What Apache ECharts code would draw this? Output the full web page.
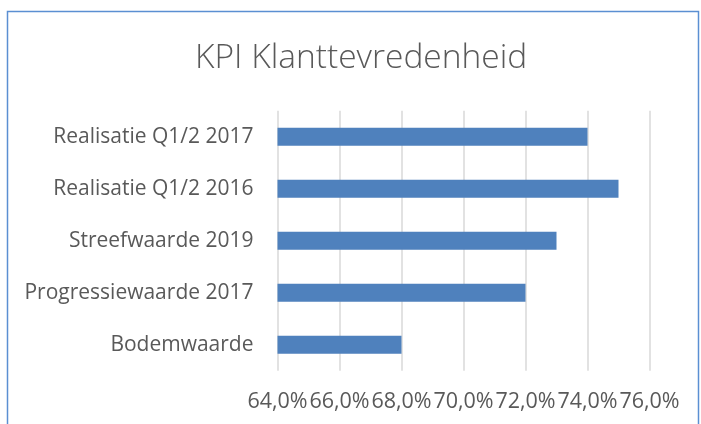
<!DOCTYPE html>
<html>
<head>
<meta charset="utf-8">
<script src="https://cdn.jsdelivr.net/npm/echarts@6/dist/echarts.min.js"></script>
<style>
  html, body { margin: 0; padding: 0; background: #fff; }
  #chart { width: 701px; height: 424px; }
</style>
</head>
<body>
<div id="chart"></div>
<script>
// categories from bottom to top
const categories = ['Bodemwaarde', 'Progressiewaarde 2017', 'Streefwaarde 2019', 'Realisatie Q1/2 2016', 'Realisatie Q1/2 2017']
const values = [68, 72, 73, 75, 74]
const axisMin = 64
const axisMax = 76
const axisStep = 2

const chart = echarts.init(document.getElementById('chart'))

const option = {
  animation: false,
  backgroundColor: '#fff',
  title: {
    text: 'KPI Klanttevredenheid',
    left: 190,
    top: 36,
    textStyle: {
      fontFamily: 'Open Sans',
      fontWeight: 300,
      fontSize: 33.5,
      color: '#595959'
    }
  },
  // chart border (no bottom edge, as in the crop)
  graphic: [
    {
      type: 'polyline',
      shape: { points: [[7.5, 430], [7.5, 11.5], [698.5, 11.5], [698.5, 430]] },
      style: { stroke: '#5b8fd2', lineWidth: 1.5, fill: null }
    }
  ],
  grid: {
    left: 277.5,
    right: 51.5,
    top: 110.7,
    height: 260
  },
  xAxis: {
    type: 'value',
    min: axisMin,
    max: axisMax,
    interval: axisStep,
    axisLine: { show: false },
    axisTick: { show: false },
    splitLine: { lineStyle: { color: '#d9d9d9', width: 1.5 } },
    axisLabel: {
      margin: 20,
      fontFamily: 'Open Sans',
      fontSize: 21.5,
      color: '#595959',
      formatter: v => v.toFixed(1).replace('.', ',') + '%'
    }
  },
  yAxis: {
    type: 'category',
    data: categories,
    axisLine: { show: false },
    axisTick: { show: false },
    axisLabel: {
      margin: 24,
      fontFamily: 'Open Sans',
      fontSize: 21,
      color: '#595959'
    }
  },
  series: [
    {
      type: 'bar',
      data: values,
      barWidth: 18,
      itemStyle: { color: '#4f81bd' }
    }
  ]
}

chart.setOption(option)
</script>
</body>
</html>
